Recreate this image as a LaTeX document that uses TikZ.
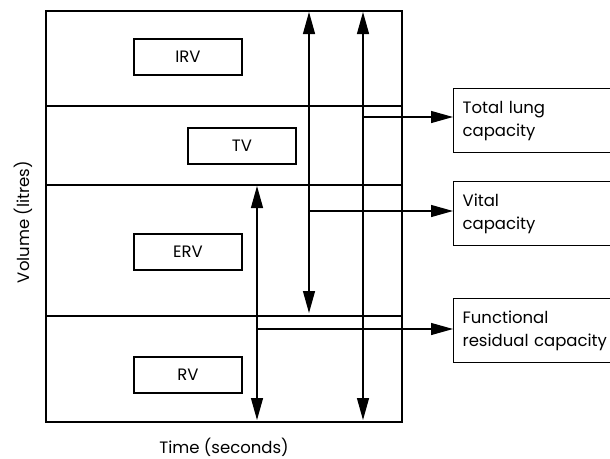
\documentclass[tikz,border=0pt]{standalone}
\usepackage{fontspec}
\setmainfont{Poppins}
\usetikzlibrary{arrows.meta}
\tikzset{
  volbox/.style={draw, minimum width=108pt, minimum height=36pt, inner sep=0pt},
  capbox/.style={draw, anchor=north west, text width=160pt, minimum height=64pt,
    align=left, inner xsep=9pt, inner ysep=0pt},
}
\begin{document}
\begin{tikzpicture}[x=1pt, y=-1pt, line width=1.2pt,
    font=\fontsize{16.5}{23}\selectfont,
    >={Triangle[length=22pt,width=12pt]}]
    \useasboundingbox (0,0) rectangle (610,458);
    \clip (0,0) rectangle (610,458);
    % Frame and levels
    \draw (46,11) rectangle (402,422);
    \foreach \y in {106,185,316} \draw (46,\y) -- (402,\y);
    % Volumes
    \node[volbox] (irv) at (188,57) {IRV};
    \node[volbox] (tv) at (242,146) {TV};
    \node[volbox] (erv) at (188,252) {ERV};
    \node[volbox] (rv) at (188,375) {RV};
    % Capacities
    \node[capbox] (tlc) at (453,88) {Total lung\\capacity};
    \node[capbox] (vc) at (453,181) {Vital\\capacity};
    \node[capbox] (frc) at (453,298) {Functional\\residual capacity};
    % Spans
    \coordinate (frctop) at (257,186);
    \coordinate (frcbot) at (257,420);
    \coordinate (vctop) at (309,12);
    \coordinate (vcbot) at (309,313);
    \coordinate (tlctop) at (363,12);
    \coordinate (tlcbot) at (363,420);
    \draw[<->] (frctop) -- (frcbot);
    \draw[<->] (vctop) -- (vcbot);
    \draw[<->] (tlctop) -- (tlcbot);
    % Links to the capacity boxes
    \coordinate (tlcfoot) at (363,117);
    \coordinate (vcfoot) at (309,211);
    \coordinate (frcfoot) at (257,329);
    \draw[->] (tlcfoot) -- (tlcfoot -| tlc.west);
    \draw[->] (vcfoot) -- (vcfoot -| vc.west);
    \draw[->] (frcfoot) -- (frcfoot -| frc.west);
    % Axis labels
    \node[rotate=90] (vol) at (23,222) {Volume (litres)};
    \node (time) at (224,447) {Time (seconds)};
\end{tikzpicture}
\end{document}
